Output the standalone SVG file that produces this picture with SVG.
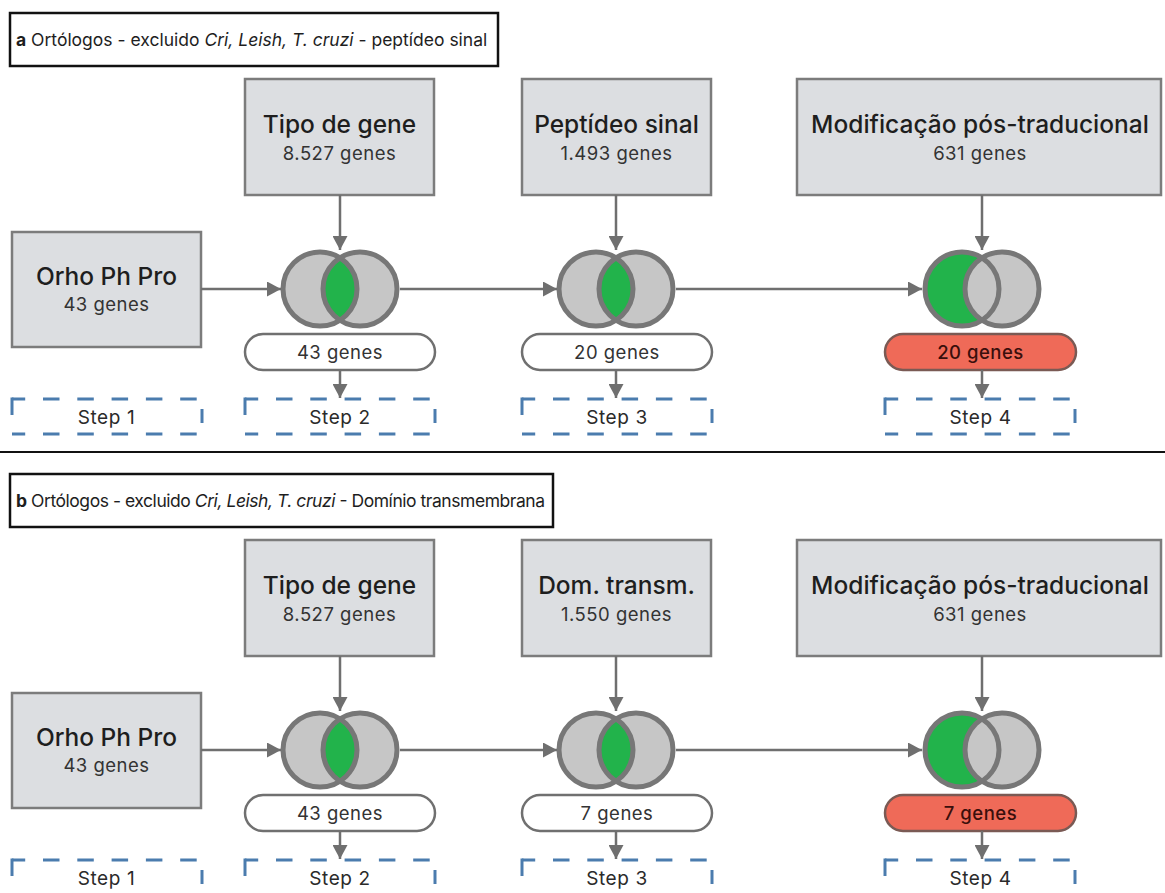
<svg xmlns="http://www.w3.org/2000/svg" xmlns:xlink="http://www.w3.org/1999/xlink" width="1165" height="893" viewBox="0 0 1165 893">
<style>
text{font-family:Inter,"Liberation Sans",sans-serif;fill:#1e1e1e}
.box{fill:#dcdee1;stroke:#7c7c7c;stroke-width:2.5}
.title{fill:#fff;stroke:#111;stroke-width:2.5}
.pill{fill:#fff;stroke:#707070;stroke-width:2.5}
.red{fill:#ef6a58;stroke:#7a5a54;stroke-width:2.5}
.sf line{fill:none;stroke:#4b7cae;stroke-width:3}
.sf .d{stroke-dasharray:16.5 17.8;stroke-dashoffset:3.3}
.h{font-size:24.5px;font-weight:500;text-anchor:middle}
.s{font-size:18.5px;letter-spacing:0.5px;text-anchor:middle;fill:#333}
.st{font-size:19px;letter-spacing:0.6px;text-anchor:middle;fill:#2a2a2a}
.rt{font-size:18.5px;letter-spacing:0.5px;font-weight:500;text-anchor:middle;fill:#3a0f0c}
.lt{font-size:17.5px}
.conn line{stroke:#6f6f6f;stroke-width:2.5;fill:none}
.vs{fill:none;stroke:#777;stroke-width:5}
</style>
<defs>
<marker id="arr" markerUnits="userSpaceOnUse" markerWidth="15" markerHeight="15" refX="14" refY="7.5" orient="auto">
<path d="M0,0 L14,7.5 L0,15 z" fill="#6f6f6f"/>
</marker>
<g id="vennAnd">
<circle cx="-20" cy="0" r="37" fill="#c6c6c6"/>
<circle cx="20" cy="0" r="37" fill="#c6c6c6"/>
<path d="M0,-31.13 A37,37 0 0 1 0,31.13 A37,37 0 0 1 0,-31.13Z" fill="#22b34b"/>
<circle cx="-20" cy="0" r="37" class="vs"/>
<circle cx="20" cy="0" r="37" class="vs"/>
</g>
<g id="vennLeft">
<circle cx="-20" cy="0" r="37" fill="#22b34b"/>
<circle cx="20" cy="0" r="37" fill="#c6c6c6"/>
<circle cx="-20" cy="0" r="37" class="vs"/>
<circle cx="20" cy="0" r="37" class="vs"/>
</g>
<g id="stepFrame" class="sf">
<line class="d" x1="0" y1="0" x2="190" y2="0"/>
<line class="d" x1="0" y1="35" x2="190" y2="35"/>
<line x1="0" y1="-1.5" x2="0" y2="16"/>
<line x1="190" y1="10" x2="190" y2="24"/>
</g>
</defs>
<rect width="1165" height="893" fill="#fff"/>

<!-- Panel a -->
<g id="a-title">
<rect class="title" x="10" y="13" width="488" height="53"/>
<text class="lt" x="16" y="46"><tspan font-weight="700">a</tspan> Ortólogos - excluido <tspan font-style="italic">Cri, Leish, T. cruzi</tspan> - peptídeo sinal</text>
</g>
<g id="a-tipo">
<rect class="box" x="245" y="79" width="189" height="116"/>
<text class="h" x="339.5" y="133">Tipo de gene</text>
<text class="s" x="339.5" y="160">8.527 genes</text>
</g>
<g id="a-pept">
<rect class="box" x="522" y="79" width="189" height="116"/>
<text class="h" x="616.5" y="133">Peptídeo sinal</text>
<text class="s" x="616.5" y="160">1.493 genes</text>
</g>
<g id="a-mod">
<rect class="box" x="797" y="79" width="364" height="116"/>
<text class="h" x="980" y="133">Modificação pós-traducional</text>
<text class="s" x="980" y="160">631 genes</text>
</g>
<g id="a-orho">
<rect class="box" x="12" y="232" width="189" height="115"/>
<text class="h" x="106.5" y="285">Orho Ph Pro</text>
<text class="s" x="106.5" y="311">43 genes</text>
</g>
<g id="a-venn1"><use xlink:href="#vennAnd" x="340" y="289"/></g>
<g id="a-venn2"><use xlink:href="#vennAnd" x="616" y="289"/></g>
<g id="a-venn3"><use xlink:href="#vennLeft" x="982" y="289"/></g>
<g id="a-res1"><rect class="pill" x="245" y="334" width="190" height="36" rx="18"/><text class="s" x="340" y="359">43 genes</text></g>
<g id="a-res2"><rect class="pill" x="522" y="334" width="190" height="36" rx="18"/><text class="s" x="617" y="359">20 genes</text></g>
<g id="a-res3"><rect class="red" x="885" y="334" width="191" height="36" rx="18"/><text class="rt" x="980.5" y="359">20 genes</text></g>
<g id="a-step1"><use xlink:href="#stepFrame" x="12" y="399"/><text class="st" x="106.5" y="424">Step 1</text></g>
<g id="a-step2"><use xlink:href="#stepFrame" x="245" y="399"/><text class="st" x="340" y="424">Step 2</text></g>
<g id="a-step3"><use xlink:href="#stepFrame" x="522" y="399"/><text class="st" x="617" y="424">Step 3</text></g>
<g id="a-step4"><use xlink:href="#stepFrame" x="885" y="399"/><text class="st" x="980.5" y="424">Step 4</text></g>
<g id="a-connectors" class="conn">
<line x1="340" y1="195" x2="340" y2="250" marker-end="url(#arr)"/>
<line x1="616" y1="195" x2="616" y2="250" marker-end="url(#arr)"/>
<line x1="982" y1="195" x2="982" y2="250" marker-end="url(#arr)"/>
<line x1="201" y1="289" x2="281" y2="289" marker-end="url(#arr)"/>
<line x1="400" y1="289" x2="557" y2="289" marker-end="url(#arr)"/>
<line x1="676" y1="289" x2="922" y2="289" marker-end="url(#arr)"/>
<line x1="340" y1="370" x2="340" y2="398" marker-end="url(#arr)"/>
<line x1="616" y1="370" x2="616" y2="398" marker-end="url(#arr)"/>
<line x1="982" y1="370" x2="982" y2="398" marker-end="url(#arr)"/>
</g>

<line x1="0" y1="452" x2="1165" y2="452" stroke="#111" stroke-width="2"/>

<!-- Panel b -->
<g id="b-title">
<rect class="title" x="10" y="474" width="543" height="53"/>
<text class="lt" x="16" y="507" textLength="529" lengthAdjust="spacing"><tspan font-weight="700">b</tspan> Ortólogos - excluido <tspan font-style="italic">Cri, Leish, T. cruzi</tspan> - Domínio transmembrana</text>
</g>
<g id="b-tipo">
<rect class="box" x="245" y="540" width="189" height="116"/>
<text class="h" x="339.5" y="594">Tipo de gene</text>
<text class="s" x="339.5" y="621">8.527 genes</text>
</g>
<g id="b-dom">
<rect class="box" x="522" y="540" width="189" height="116"/>
<text class="h" x="616.5" y="594">Dom. transm.</text>
<text class="s" x="616.5" y="621">1.550 genes</text>
</g>
<g id="b-mod">
<rect class="box" x="797" y="540" width="364" height="116"/>
<text class="h" x="980" y="594">Modificação pós-traducional</text>
<text class="s" x="980" y="621">631 genes</text>
</g>
<g id="b-orho">
<rect class="box" x="12" y="693" width="189" height="115"/>
<text class="h" x="106.5" y="746">Orho Ph Pro</text>
<text class="s" x="106.5" y="772">43 genes</text>
</g>
<g id="b-venn1"><use xlink:href="#vennAnd" x="340" y="750"/></g>
<g id="b-venn2"><use xlink:href="#vennAnd" x="616" y="750"/></g>
<g id="b-venn3"><use xlink:href="#vennLeft" x="982" y="750"/></g>
<g id="b-res1"><rect class="pill" x="245" y="795" width="190" height="36" rx="18"/><text class="s" x="340" y="820">43 genes</text></g>
<g id="b-res2"><rect class="pill" x="522" y="795" width="190" height="36" rx="18"/><text class="s" x="617" y="820">7 genes</text></g>
<g id="b-res3"><rect class="red" x="885" y="795" width="191" height="36" rx="18"/><text class="rt" x="980.5" y="820">7 genes</text></g>
<g id="b-step1"><use xlink:href="#stepFrame" x="12" y="860"/><text class="st" x="106.5" y="885">Step 1</text></g>
<g id="b-step2"><use xlink:href="#stepFrame" x="245" y="860"/><text class="st" x="340" y="885">Step 2</text></g>
<g id="b-step3"><use xlink:href="#stepFrame" x="522" y="860"/><text class="st" x="617" y="885">Step 3</text></g>
<g id="b-step4"><use xlink:href="#stepFrame" x="885" y="860"/><text class="st" x="980.5" y="885">Step 4</text></g>
<g id="b-connectors" class="conn">
<line x1="340" y1="656" x2="340" y2="711" marker-end="url(#arr)"/>
<line x1="616" y1="656" x2="616" y2="711" marker-end="url(#arr)"/>
<line x1="982" y1="656" x2="982" y2="711" marker-end="url(#arr)"/>
<line x1="201" y1="750" x2="281" y2="750" marker-end="url(#arr)"/>
<line x1="400" y1="750" x2="557" y2="750" marker-end="url(#arr)"/>
<line x1="676" y1="750" x2="922" y2="750" marker-end="url(#arr)"/>
<line x1="340" y1="831" x2="340" y2="859" marker-end="url(#arr)"/>
<line x1="616" y1="831" x2="616" y2="859" marker-end="url(#arr)"/>
<line x1="982" y1="831" x2="982" y2="859" marker-end="url(#arr)"/>
</g>
</svg>
